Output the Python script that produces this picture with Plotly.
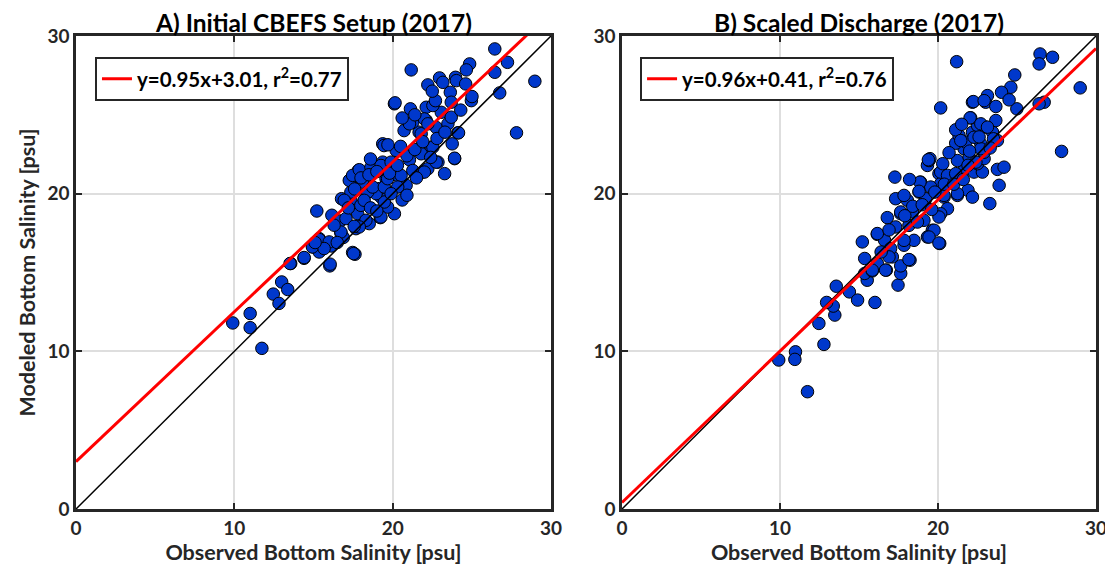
import plotly.graph_objects as go

# ---------------- data ----------------
obs_a = [9.9, 11.0, 11.0, 11.74, 12.46, 12.82, 12.99, 13.37, 13.56, 14.4, 14.98, 15.36, 15.78, 16.14, 15.36,
         16.03, 15.21, 16.16, 16.73, 16.88, 17.47, 17.62, 16.69, 17.05, 17.68, 17.89, 18.52, 19.22, 20.11, 17.79,
         16.77, 17.36, 17.99, 18.31, 17.36, 17.32, 17.83, 18.1, 18.74, 19.26, 19.68, 19.47, 19.16, 19.58, 19.37,
         20.0, 20.32, 20.64, 20.85, 20.43, 21.06, 21.27, 21.9, 22.22, 22.86, 23.28, 23.91, 23.76, 22.43, 21.8,
         19.37, 20.72, 21.67, 22.75, 23.49, 24.12, 21.27, 22.12, 23.07, 23.7, 21.12, 22.12, 20.11, 27.82, 24.97,
         26.45, 27.25, 26.45, 28.98, 26.76, 21.17, 24.86, 24.65, 23.97, 22.96, 23.17, 24.02, 24.61, 22.22, 23.64,
         25.01, 23.7, 20.15, 22.54, 24.16, 23.91, 22.0,
         17.26, 17.47, 17.89, 18.63, 19.26, 19.9, 20.22, 20.53, 22.0, 22.75, 22.54, 21.06, 21.8, 22.22, 16.94,
         18.31, 17.89, 19.26, 18.95, 18.42, 18.2, 18.74, 19.47, 20.32, 19.68, 16.73, 17.57, 15.36, 15.99, 14.93,
         15.67, 14.41, 13.52, 16.05, 17.53, 19.45,
         18.0, 18.5, 19.0, 19.8, 20.3, 20.9, 21.4, 21.9, 20.5, 19.9, 20.6, 20.9, 21.5, 22.4, 17.2,
         16.3, 18.6, 19.0, 17.6, 22.8, 23.3, 21.4, 22.7, 22.5, 24.3, 20.6, 16.5, 15.1, 18.6, 19.7]
mod_a = [11.8, 12.4, 11.5, 10.19, 13.63, 13.04, 14.4, 13.92, 15.57, 15.9, 16.62, 16.3, 16.73, 16.68, 17.15,
         15.42, 18.9, 18.63, 17.51, 17.22, 16.27, 16.16, 18.27, 18.42, 17.78, 17.99, 18.1, 18.48, 18.73, 18.73,
         19.68, 19.58, 19.26, 20.0, 20.1, 20.84, 21.47, 20.73, 21.68, 19.78, 19.15, 19.47, 20.32, 20.95, 22.0,
         21.9, 21.16, 20.42, 20.53, 22.74, 22.15, 21.47, 21.37, 21.58, 22.0, 21.27, 22.22, 23.16, 22.95, 22.53,
         23.16, 24.0, 23.9, 24.2, 24.43, 23.86, 24.53, 24.64, 25.16, 24.85, 25.38, 25.48, 25.7, 23.86, 25.9,
         29.18, 28.33, 27.7, 27.13, 26.39, 27.85, 28.23, 27.85, 27.38, 27.34, 27.06, 27.17, 26.96, 26.9, 26.43,
         26.16, 25.8, 25.76, 25.59, 23.86, 22.25, 24.74,
         20.84, 21.16, 21.52, 21.68, 21.79, 22.0, 22.74, 21.16, 21.37, 22.0, 22.95, 24.43, 23.8, 24.43, 19.58,
         18.31, 17.89, 18.52, 20.0, 20.1, 19.58, 20.42, 20.42, 20.42, 20.95, 17.57, 17.93, 17.09, 16.94, 16.62,
         16.52, 15.95, 15.57, 15.53, 16.2, 23.05,
         21.0, 21.2, 21.4, 21.3, 21.8, 22.4, 22.8, 23.3, 23.0, 20.0, 19.6, 19.9, 21.0, 22.3, 19.1,
         18.0, 19.1, 18.9, 20.3, 23.5, 23.9, 25.0, 25.9, 26.5, 25.3, 24.8, 16.9, 16.9, 22.2, 23.1]

obs_b = [9.92, 10.98, 10.94, 11.74, 12.78, 12.46, 13.47, 13.37, 12.95, 13.56, 14.39, 14.91, 16.01, 17.47, 17.64,
         17.64, 16.73, 15.52, 15.36, 15.84, 15.36, 16.16, 17.11, 18.23, 15.21, 16.16, 16.62, 17.0, 17.85, 18.48,
         16.79, 17.32, 18.16, 18.38, 17.64, 17.32, 18.06, 17.85, 18.8, 19.22, 19.11, 19.64, 19.33, 20.11, 17.27,
         18.9, 19.33, 19.43, 20.06, 20.17, 19.54, 20.38, 20.6, 20.17, 21.23, 21.9, 22.18, 23.28, 23.87, 23.76,
         24.18, 21.02, 21.65, 22.28, 22.81, 22.5, 22.92, 21.23, 21.65, 21.76, 21.12, 21.33, 21.12, 22.18, 22.5,
         22.07, 23.02, 23.45, 23.76, 23.66, 22.92, 22.71, 20.17, 22.18, 23.02, 23.66, 24.99, 26.72, 26.4, 27.82,
         21.18, 26.46, 27.25, 26.4, 29.0, 24.86, 24.61, 24.02, 23.13, 22.24, 22.92, 24.5, 22.03, 22.71, 23.13,
         21.44, 22.28, 23.51, 22.71, 19.49, 21.97,
         19.39, 18.86, 18.8, 20.17, 20.6, 21.12, 17.64, 19.75, 20.06, 20.38, 21.23, 16.16, 17.85, 19.43, 20.06,
         16.9, 18.16, 16.68, 15.84,
         18.4, 19.0, 19.8, 20.4, 21.0, 21.6, 22.0, 22.6, 21.5, 20.7, 20.3, 17.9, 18.7, 19.6, 16.4,
         16.9, 22.4, 23.3, 21.9, 18.2]
mod_b = [9.45, 9.97, 9.49, 7.44, 10.44, 11.77, 12.3, 12.87, 13.1, 14.13, 13.77, 13.25, 13.1, 14.2, 14.94,
         15.42, 15.15, 14.51, 14.94, 15.1, 15.89, 15.57, 15.99, 15.78, 16.94, 17.42, 17.04, 16.52, 16.73, 17.04,
         18.48, 17.89, 17.99, 18.84, 18.73, 19.68, 19.58, 19.89, 20.1, 19.68, 18.31, 17.68, 17.25, 16.84, 21.05,
         20.73, 21.79, 22.1, 21.27, 20.63, 20.42, 19.78, 19.05, 18.73, 19.89, 20.21, 19.78, 19.37, 20.53, 21.54,
         21.68, 21.16, 21.47, 21.37, 21.37, 21.9, 22.22, 22.1, 22.85, 23.27, 23.2, 23.69, 24.05, 23.9, 24.32,
         24.81, 24.22, 23.9, 23.37, 24.64, 22.63, 23.16, 25.44, 25.8, 25.8, 25.53, 25.38, 25.8, 25.7, 22.68,
         28.37, 28.86, 28.65, 28.23, 26.71, 27.53, 26.75, 26.43, 26.22, 25.84, 25.9, 25.95, 24.81, 24.43, 24.22,
         23.37, 23.58, 23.48, 22.85, 22.22, 22.32,
         22.15, 20.73, 20.15, 21.37, 21.16, 21.27, 18.84, 17.68, 18.52, 19.89, 20.0, 17.47, 17.04, 17.25, 16.87,
         15.99, 15.82, 15.15, 15.15,
         19.2, 19.3, 20.1, 20.6, 20.6, 20.9, 22.7, 23.6, 24.4, 22.6, 21.9, 18.6, 18.2, 19.0, 16.3,
         17.7, 22.0, 22.9, 21.8, 20.9]

fit_a = {"slope": 0.95, "icpt": 3.01, "label": "y=0.95x+3.01, r<sup>2</sup>=0.77"}
fit_b = {"slope": 0.96, "icpt": 0.41, "label": "y=0.96x+0.41, r<sup>2</sup>=0.76"}
titles = ["A) Initial CBEFS Setup (2017)", "B) Scaled Discharge (2017)"]
ticks = [0, 10, 20, 30]
line_x = [0, 30]

FONT = "Lato"
DARK = "#262626"
BLUE = "rgb(0,56,204)"

fig = go.Figure()

panels = [(obs_a, mod_a, fit_a, "x", "y", "legend"),
          (obs_b, mod_b, fit_b, "x2", "y2", "legend2")]
for obs, mod, fit, xa, ya, lg in panels:
    fig.add_trace(go.Scatter(x=obs, y=mod, mode="markers", xaxis=xa, yaxis=ya, showlegend=False,
                             marker=dict(size=12.5, color=BLUE, line=dict(color="black", width=1))))
    fig.add_trace(go.Scatter(x=line_x, y=line_x, mode="lines", xaxis=xa, yaxis=ya, showlegend=False,
                             line=dict(color="black", width=1.5)))
    fig.add_trace(go.Scatter(x=line_x, y=[fit["icpt"] + fit["slope"] * v for v in line_x], mode="lines",
                             xaxis=xa, yaxis=ya, name=fit["label"], legend=lg,
                             line=dict(color="#ff0000", width=3)))

axis_common = dict(range=[0, 30], tickvals=ticks, showgrid=True, gridcolor="#dedede", gridwidth=2,
                   showline=True, linecolor=DARK, linewidth=2.5, mirror="allticks", ticks="inside",
                   ticklen=6, tickwidth=2, tickcolor=DARK, zeroline=False, automargin=False,
                   tickfont=dict(family=FONT, size=19, color=DARK, weight="bold"))

xtitle = dict(text="Observed Bottom Salinity [psu]", font=dict(family=FONT, size=21.5, color=DARK, weight="bold"),
              standoff=8)
legend_font = dict(family=FONT, size=20.5, color="black", weight="bold")
title_font = dict(family=FONT, size=24.5, color="black", weight="bold")
title_y = 1 + (28 - 15) / 473
fig.update_layout(
    width=1105, height=571,
    margin=dict(l=68, r=17, t=28, b=70, autoexpand=False),
    plot_bgcolor="white", paper_bgcolor="white",
    xaxis=dict(domain=[0, 0.4657], anchor="y", title=xtitle, **axis_common),
    yaxis=dict(domain=[0, 1], anchor="x",
               title=dict(text="Modeled Bottom Salinity [psu]",
                          font=dict(family=FONT, size=21.5, color=DARK, weight="bold"), standoff=6),
               **axis_common),
    xaxis2=dict(domain=[0.5353, 1], anchor="y2", title=xtitle, **axis_common),
    yaxis2=dict(domain=[0, 1], anchor="x2", **axis_common),
    legend=dict(x=0.0186, y=0.956, xanchor="left", yanchor="top", bgcolor="white",
                bordercolor=DARK, borderwidth=2, font=legend_font),
    legend2=dict(x=0.553, y=0.956, xanchor="left", yanchor="top", bgcolor="white",
                 bordercolor=DARK, borderwidth=2, font=legend_font),
    annotations=[
        dict(text=titles[0], x=0.4657 / 2, y=title_y, xref="paper", yref="paper", xanchor="center",
             yanchor="middle", showarrow=False, font=title_font),
        dict(text=titles[1], x=(0.5353 + 1) / 2, y=title_y, xref="paper", yref="paper", xanchor="center",
             yanchor="middle", showarrow=False, font=title_font),
    ],
)

fig.write_html("out.html")
